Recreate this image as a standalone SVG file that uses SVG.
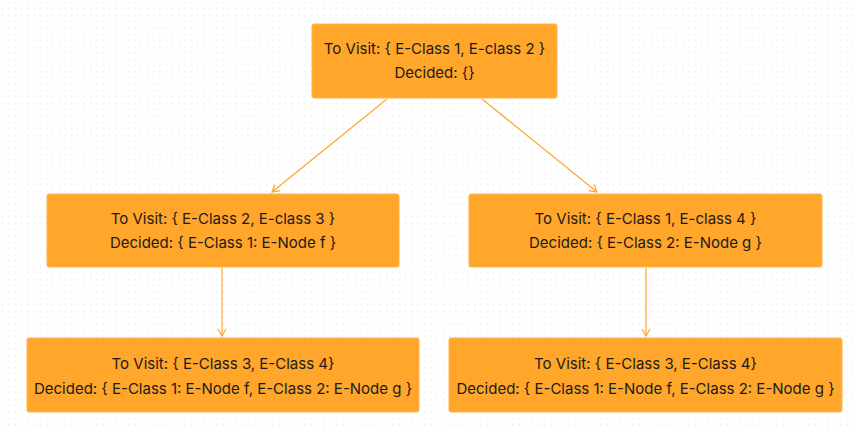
<svg xmlns="http://www.w3.org/2000/svg" width="855" height="430" viewBox="0 0 855 430">
  <style>
    .box { fill: #ffa62b; stroke: #ffb44f; stroke-width: 1; }
    .t { font-family: Inter, "Liberation Sans", sans-serif; font-size: 15px; font-weight: 400; fill: #1b1b1b; text-anchor: middle; }
    .edge { stroke: #ffa62b; stroke-width: 1.2; fill: none; }
  </style>
  <defs>
    <pattern id="dots" width="6.3" height="6.3" patternUnits="userSpaceOnUse">
      <rect x="2" y="2" width="1" height="1" fill="#dcdcdc"/>
    </pattern>
    <marker id="arr" markerWidth="10" markerHeight="10" refX="8" refY="5" orient="auto" markerUnits="userSpaceOnUse">
      <path d="M1,1 L8,5 L1,9" fill="none" stroke="#ffa62b" stroke-width="1.2"/>
    </marker>
  </defs>
  <rect width="855" height="430" fill="#ffffff"/>
  <rect width="855" height="430" fill="url(#dots)"/>

  <g id="connectors">
    <line class="edge" x1="387" y1="99" x2="272" y2="192" marker-end="url(#arr)"/>
    <line class="edge" x1="482" y1="99" x2="597" y2="192" marker-end="url(#arr)"/>
    <line class="edge" x1="222" y1="268" x2="222" y2="336" marker-end="url(#arr)"/>
    <line class="edge" x1="646" y1="268" x2="646" y2="336" marker-end="url(#arr)"/>
  </g>

  <g id="n0">
    <rect class="box" x="312" y="24" width="245" height="74" rx="2"/>
    <text class="t" x="434.5" y="54">To Visit: { E-Class 1, E-class 2 }</text>
    <text class="t" x="434.5" y="78">Decided: {}</text>
  </g>
  <g id="n1">
    <rect class="box" x="47" y="194" width="352" height="73" rx="2"/>
    <text class="t" x="223" y="224">To Visit: { E-Class 2, E-class 3 }</text>
    <text class="t" x="223" y="248">Decided: { E-Class 1: E-Node f }</text>
  </g>
  <g id="n2">
    <rect class="box" x="469" y="194" width="353" height="73" rx="2"/>
    <text class="t" x="645.5" y="224">To Visit: { E-Class 1, E-class 4 }</text>
    <text class="t" x="645.5" y="248">Decided: { E-Class 2: E-Node g }</text>
  </g>
  <g id="n3">
    <rect class="box" x="27" y="338" width="392" height="74" rx="2"/>
    <text class="t" x="223" y="369">To Visit: { E-Class 3, E-Class 4}</text>
    <text class="t" x="223" y="394">Decided: { E-Class 1: E-Node f, E-Class 2: E-Node g }</text>
  </g>
  <g id="n4">
    <rect class="box" x="449" y="338" width="393" height="74" rx="2"/>
    <text class="t" x="645.5" y="369">To Visit: { E-Class 3, E-Class 4}</text>
    <text class="t" x="645.5" y="394">Decided: { E-Class 1: E-Node f, E-Class 2: E-Node g }</text>
  </g>
</svg>
